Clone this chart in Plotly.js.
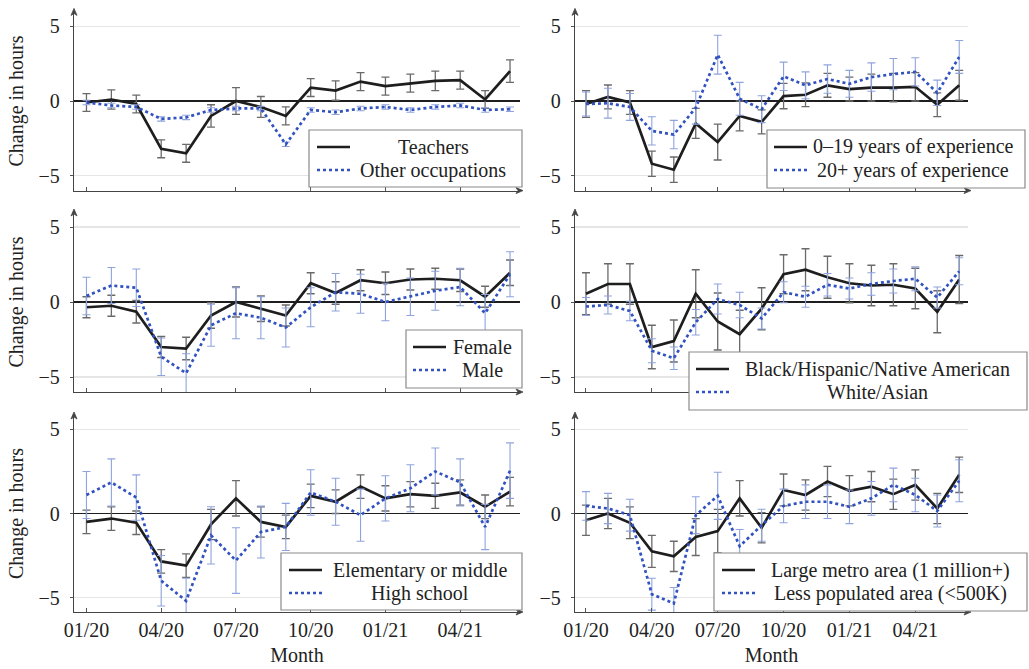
<!DOCTYPE html>
<html>
<head>
<meta charset="utf-8">
<script src="https://cdn.plot.ly/plotly-3.0.1.min.js"></script>
<style>html,body{margin:0;padding:0;background:#fff;}#chart{width:1029px;height:669px;}</style>
</head>
<body>
<div id="chart"></div>
<script>
// ---------- data ----------
const months = ["01/20","02/20","03/20","04/20","05/20","06/20","07/20","08/20","09/20",
                "10/20","11/20","12/20","01/21","02/21","03/21","04/21","05/21","06/21"];
const tickLabels = ["01/20","04/20","07/20","10/20","01/21","04/21"];
const yTicks = [-5, 0, 5];

const teachers    = [-0.1,0.1,-0.2,-3.2,-3.5,-1.0,0.0,-0.4,-1.0,0.9,0.7,1.3,1.0,1.2,1.35,1.4,0.1,2.0];
const teachersErr = [0.6,0.65,0.6,0.6,0.6,0.75,0.9,0.7,0.6,0.6,0.65,0.6,0.6,0.6,0.65,0.6,0.6,0.75];
const otherOcc    = [-0.1,-0.3,-0.4,-1.2,-1.1,-0.6,-0.5,-0.5,-2.9,-0.6,-0.75,-0.5,-0.4,-0.6,-0.4,-0.3,-0.6,-0.55];
const otherOccErr = [0.15,0.15,0.15,0.15,0.15,0.15,0.15,0.15,0.15,0.15,0.15,0.15,0.15,0.15,0.15,0.15,0.15,0.15];

const exp0to19     = [-0.2,0.27,-0.1,-4.2,-4.6,-1.5,-2.75,-1.0,-1.4,0.33,0.42,1.05,0.8,0.9,0.9,0.95,-0.25,1.05];
const exp0to19Err  = [0.9,0.8,0.8,0.85,0.85,1.0,1.2,1.0,0.8,0.85,0.8,0.8,0.8,0.9,0.95,0.95,0.8,1.0];
const exp20plus    = [-0.2,-0.15,-0.4,-2.0,-2.25,-0.45,3.1,0.15,-0.55,1.65,1.05,1.47,1.15,1.6,1.8,1.95,0.55,2.95];
const exp20plusErr = [0.8,1.0,0.9,0.95,0.95,1.1,1.3,1.1,0.9,0.95,0.9,0.95,0.9,0.95,1.05,0.95,0.85,1.1];

const female    = [-0.35,-0.25,-0.65,-3.0,-3.1,-0.9,0.0,-0.45,-0.9,1.25,0.6,1.45,1.25,1.5,1.55,1.45,0.35,1.95];
const femaleErr = [0.7,0.7,0.75,0.7,0.75,0.85,1.0,0.85,0.7,0.7,0.75,0.7,0.75,0.7,0.7,0.75,0.7,0.85];
const male      = [0.4,1.1,0.95,-3.65,-4.75,-1.55,-0.75,-1.05,-1.7,-0.35,0.65,0.55,0.0,0.35,0.75,1.0,-0.75,1.85];
const maleErr   = [1.25,1.2,1.25,1.25,1.3,1.4,1.7,1.4,1.3,1.3,1.25,1.3,1.25,1.25,1.3,1.25,1.25,1.5];

const bhna          = [0.55,1.2,1.2,-3.0,-2.6,0.55,-1.3,-2.15,-0.45,1.85,2.15,1.65,1.25,1.1,1.15,0.9,-0.65,1.5];
const bhnaErr       = [1.4,1.35,1.35,1.45,1.4,1.6,1.9,1.6,1.4,1.3,1.4,1.4,1.3,1.35,1.4,1.35,1.4,1.6];
const whiteAsian    = [-0.3,-0.2,-0.6,-3.25,-3.75,-1.35,0.2,-0.2,-1.1,0.65,0.35,1.15,0.9,1.2,1.4,1.55,0.3,2.05];
const whiteAsianErr = [0.6,0.6,0.65,0.8,0.75,0.85,1.0,0.85,0.7,0.7,0.7,0.75,0.7,0.75,0.8,0.8,0.7,0.9];

const elemMiddle    = [-0.5,-0.3,-0.55,-2.85,-3.1,-0.65,0.9,-0.5,-0.8,1.05,0.7,1.6,0.9,1.15,1.05,1.25,0.4,1.3];
const elemMiddleErr = [0.7,0.7,0.7,0.7,0.7,0.9,1.05,0.9,0.7,0.7,0.7,0.7,0.75,0.75,0.75,0.75,0.7,0.85];
const highSchool    = [1.1,1.85,0.95,-4.0,-5.2,-1.3,-2.8,-1.1,-0.8,1.25,0.7,-0.1,0.9,1.5,2.5,1.85,-0.8,2.55];
const highSchoolErr = [1.4,1.4,1.35,1.5,1.35,1.7,1.95,1.55,1.4,1.35,1.4,1.55,1.35,1.4,1.4,1.4,1.35,1.65];

const largeMetro    = [-0.4,0.0,-0.55,-2.25,-2.55,-1.4,-1.05,0.9,-0.85,1.4,1.1,1.9,1.35,1.6,1.15,1.7,0.3,2.3];
const largeMetroErr = [0.9,0.9,0.95,0.95,0.9,1.1,1.3,1.05,0.9,0.95,0.9,0.9,0.9,0.9,0.9,0.9,0.9,1.05];
const lessPop       = [0.45,0.3,-0.1,-4.8,-5.35,-0.1,1.05,-1.95,-0.7,0.45,0.7,0.7,0.4,0.9,1.7,1.1,0.15,1.95];
const lessPopErr    = [0.85,0.9,0.95,0.95,0.95,1.1,1.4,1.0,0.95,1.0,1.0,1.0,1.0,1.0,1.0,1.0,0.95,1.25];

const seriesNames = [
  ["Teachers", "Other occupations"],
  ["0\u201319 years of experience", "20+ years of experience"],
  ["Female", "Male"],
  ["Black/Hispanic/Native American", "White/Asian"],
  ["Elementary or middle", "High school"],
  ["Large metro area (1 million+)", "Less populated area (<500K)"]
];
const seriesValues = [
  [[teachers, teachersErr], [otherOcc, otherOccErr]],
  [[exp0to19, exp0to19Err], [exp20plus, exp20plusErr]],
  [[female, femaleErr], [male, maleErr]],
  [[bhna, bhnaErr], [whiteAsian, whiteAsianErr]],
  [[elemMiddle, elemMiddleErr], [highSchool, highSchoolErr]],
  [[largeMetro, largeMetroErr], [lessPop, lessPopErr]]
];

// ---------- layout geometry (pixels) ----------
const W = 1029, H = 669;
const PX = v => v / W;
const PY = v => 1 - v / H;
const colPix = [[74, 520], [575, 968]];
const rowPix = [[11.4, 190.6], [212, 392], [415, 612]];
const rowRange = [[-6, 6], [-6, 6], [-5.86, 5.86]];
// legend boxes: left, right, top, bottom, sample-left, text-centre
const legendPix = [
  [309, 522, 130, 187, 317, 433],
  [767, 1025, 130, 188, 774, 913],
  [406, 522, 330, 388, 413, 482],
  [689, 1027, 352, 410, 696, 877],
  [281, 522, 553, 610, 289, 420],
  [714, 1027, 553, 611, 722, 890]
];

const BLACK = '#1e1e1e';
const BLUE = '#3152c0';
const AXIS = '#444';
const FONT = 'Liberation Serif, Times New Roman, serif';
const xIdx = months.map((m, i) => i);
const tickVals = tickLabels.map(t => months.indexOf(t));

const traces = [];
const layout = {
  width: W, height: H,
  margin: {l: 0, r: 0, t: 0, b: 0},
  paper_bgcolor: '#ffffff',
  plot_bgcolor: 'rgba(0,0,0,0)',
  showlegend: false,
  font: {family: FONT, size: 20, color: '#222'},
  shapes: [],
  annotations: []
};

function pathPx(points) {
  return 'M ' + points.map(p => PX(p[0]) + ',' + PY(p[1])).join(' L ') + ' Z';
}

const legendShapes = [];

for (let p = 0; p < 6; p++) {
  const row = Math.floor(p / 2), col = p % 2;
  const s = p === 0 ? '' : String(p + 1);
  const xa = 'x' + s, ya = 'y' + s;

  layout['xaxis' + s] = {
    domain: [PX(colPix[col][0]), PX(colPix[col][1])],
    anchor: ya,
    range: [-0.5, 17.4],
    tickvals: tickVals, ticktext: tickLabels,
    ticks: 'inside', ticklen: 4, tickcolor: '#555', tickwidth: 1,
    showline: true, linecolor: AXIS, linewidth: 1.2,
    showgrid: false, zeroline: false,
    showticklabels: row === 2,
    ticklabelstandoff: 0,
    tickfont: {family: FONT, size: 20, color: '#222'},
    title: row === 2 ? {text: 'Month', font: {family: FONT, size: 20, color: '#222'}, standoff: 7} : {text: ''},
    fixedrange: true
  };
  layout['yaxis' + s] = {
    domain: [PY(rowPix[row][1]), PY(rowPix[row][0])],
    anchor: xa,
    range: rowRange[row],
    tickvals: yTicks,
    ticks: 'outside', ticklen: 3, tickcolor: '#555', tickwidth: 1,
    showline: true, linecolor: AXIS, linewidth: 1.2,
    showgrid: true, gridcolor: '#e6e6e6', gridwidth: 1.5,
    zeroline: true, zerolinecolor: BLACK, zerolinewidth: 1.5,
    ticklabelstandoff: 6,
    tickfont: {family: FONT, size: 20, color: '#222'},
    title: col === 0 ? {text: 'Change in hours', font: {family: FONT, size: 20, color: '#222'}, standoff: 9} : {text: ''},
    fixedrange: true
  };

  const [a, b] = seriesValues[p];
  traces.push({
    type: 'scatter', mode: 'lines', name: seriesNames[p][0],
    x: xIdx, y: a[0], text: months, xaxis: xa, yaxis: ya,
    line: {color: BLACK, width: 2.7},
    error_y: {type: 'data', array: a[1], visible: true, color: '#6a6a6a', thickness: 1.3, width: 4}
  });
  traces.push({
    type: 'scatter', mode: 'lines', name: seriesNames[p][1],
    x: xIdx, y: b[0], text: months, xaxis: xa, yaxis: ya,
    line: {color: BLUE, width: 2.7, dash: 'dot'},
    error_y: {type: 'data', array: b[1], visible: true, color: '#8fa3de', thickness: 1.1, width: 4}
  });

  // axis arrow heads (drawn as small triangles, beneath the legend boxes)
  const xr = colPix[col][1], xl = colPix[col][0];
  const yb = rowPix[row][1], yt = rowPix[row][0];
  layout.shapes.push({
    type: 'path', xref: 'paper', yref: 'paper', layer: 'above',
    path: pathPx([[xr + 3, yb], [xr - 4, yb - 3], [xr - 2, yb], [xr - 4, yb + 3]]),
    line: {color: AXIS, width: 0.8}, fillcolor: AXIS
  });
  layout.shapes.push({
    type: 'path', xref: 'paper', yref: 'paper', layer: 'above',
    path: pathPx([[xl, yt - 3], [xl - 3, yt + 4], [xl, yt + 2], [xl + 3, yt + 4]]),
    line: {color: AXIS, width: 0.8}, fillcolor: AXIS
  });

  // legend box
  const [l0, l1, t0, t1, sx, cx] = legendPix[p];
  legendShapes.push({
    type: 'rect', xref: 'paper', yref: 'paper', layer: 'above',
    x0: PX(l0), x1: PX(l1), y0: PY(t1), y1: PY(t0),
    line: {color: '#8a8a8a', width: 1.2}, fillcolor: '#ffffff'
  });
  const rowsY = [t0 + 17, t0 + 40];
  [[BLACK, 'solid'], [BLUE, 'dot']].forEach((st, k) => {
    legendShapes.push({
      type: 'line', xref: 'paper', yref: 'paper', layer: 'above',
      x0: PX(sx), x1: PX(sx + 33), y0: PY(rowsY[k]), y1: PY(rowsY[k]),
      line: {color: st[0], width: 2.7, dash: st[1]}
    });
    layout.annotations.push({
      xref: 'paper', yref: 'paper', x: PX(cx), y: PY(rowsY[k]),
      xanchor: 'center', yanchor: 'middle', showarrow: false,
      text: seriesNames[p][k].replace(/</g, '&lt;'),
      font: {family: FONT, size: 20, color: '#222'}
    });
  });
}
layout.shapes = layout.shapes.concat(legendShapes);

Plotly.newPlot('chart', traces, layout, {staticPlot: true, displayModeBar: false});
</script>
</body>
</html>
